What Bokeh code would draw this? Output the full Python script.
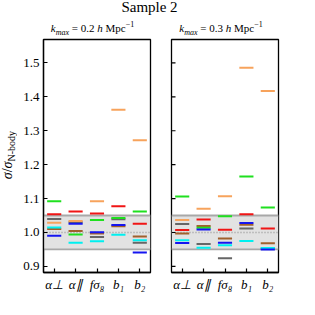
from bokeh.plotting import figure
from bokeh.models import (Range1d, FixedTicker, PrintfTickFormatter, BoxAnnotation,
                          Span, Div, ColumnDataSource)
from bokeh.layouts import column, row
from bokeh.embed import file_html
from bokeh.resources import INLINE

# ---------------- data ----------------
categories = ["α⊥", "α∥", "fσ₈", "b₁", "b₂"]
y_ticks = [0.9, 1.0, 1.1, 1.2, 1.3, 1.4, 1.5]

# k_max = 0.2 h/Mpc
gray_02 = [1.040, 1.030, 0.987, 1.039, 0.970]
brown_02 = [1.010, 1.004, 0.997, 1.018, 0.988]
orange_02 = [1.029, 1.034, 1.092, 1.362, 1.272]
green_02 = [1.092, 0.994, 1.037, 1.043, 1.062]
red_02 = [1.054, 1.062, 1.056, 1.077, 1.026]
cyan_02 = [1.015, 0.970, 0.974, 0.993, 0.977]
blue_02 = [0.990, 1.026, 1.001, 1.022, 0.941]

# k_max = 0.3 h/Mpc
gray_03 = [1.025, 0.966, 0.924, 1.012, 0.953]
brown_03 = [0.997, 1.019, 0.982, 1.023, 0.968]
orange_03 = [1.037, 1.070, 1.107, 1.486, 1.417]
green_03 = [1.106, 1.014, 1.048, 1.165, 1.074]
red_03 = [1.007, 1.038, 1.008, 1.054, 1.012]
cyan_03 = [0.977, 0.955, 0.962, 0.975, 0.954]
blue_03 = [0.969, 1.009, 0.970, 1.028, 0.950]

colors = {"gray": "#666666", "brown": "#a0602d", "orange": "#f7a35c",
          "green": "#1fe01f", "red": "#f01515", "cyan": "#00f0f0", "blue": "#1515f0"}

series_02 = [("gray", gray_02), ("brown", brown_02), ("orange", orange_02),
             ("green", green_02), ("red", red_02), ("cyan", cyan_02), ("blue", blue_02)]
series_03 = [("gray", gray_03), ("brown", brown_03), ("orange", orange_03),
             ("green", green_03), ("red", red_03), ("cyan", cyan_03), ("blue", blue_03)]

FONT = "Liberation Serif"
HALF = 0.33
X_LO, X_HI = -0.5, 4.5
FRAME_W = 107


def make_panel(series, left_labels, mb_left, mb_right):
    p = figure(frame_width=FRAME_W, frame_height=233, output_backend="svg",
               toolbar_location=None, x_range=Range1d(X_LO, X_HI),
               y_range=Range1d(0.882, 1.569),
               min_border_left=mb_left, min_border_right=mb_right,
               min_border_top=3, min_border_bottom=22)
    p.background_fill_color = "white"
    p.border_fill_color = "white"
    p.outline_line_color = "black"
    p.outline_line_width = 1.3
    p.xgrid.visible = False
    p.ygrid.visible = False

    band = BoxAnnotation(bottom=0.95, top=1.05, fill_color="#e2e2e2", fill_alpha=1.0,
                         line_alpha=0, level="underlay")
    p.add_layout(band)
    for yv in (0.95, 1.05):
        p.add_layout(Span(location=yv, dimension="width", line_color="#a8a8a8",
                          line_width=1.8, level="underlay"))
    p.add_layout(Span(location=1.0, dimension="width", line_color="#9a9a9a",
                      line_width=1.5, line_dash="1 2", level="underlay"))

    for name, vals in series:
        idx = list(range(len(categories)))
        src = ColumnDataSource(dict(x0=[i - HALF for i in idx], x1=[i + HALF for i in idx],
                                    y=vals))
        p.segment(x0="x0", y0="y", x1="x1", y1="y", source=src,
                  line_color=colors[name], line_width=2)

    xa = p.xaxis[0]
    xa.ticker = FixedTicker(ticks=list(range(len(categories))))
    xa.major_label_overrides = {i: c for i, c in enumerate(categories)}
    xa.major_label_text_font = FONT
    xa.major_label_text_font_style = "italic"
    xa.major_label_text_font_size = "13px"
    xa.major_label_text_color = "black"
    xa.major_label_standoff = 4
    ya = p.yaxis[0]
    ya.ticker = FixedTicker(ticks=y_ticks)
    ya.formatter = PrintfTickFormatter(format="%.1f")
    ya.major_label_text_font = FONT
    ya.major_label_text_font_size = "13px"
    ya.major_label_text_color = "black"
    ya.major_label_standoff = 4
    for ax in (xa, ya):
        ax.axis_line_color = "black"
        ax.axis_line_width = 1.3
        ax.major_tick_in = 4
        ax.major_tick_out = 0
        ax.major_tick_line_width = 1.2
        ax.minor_tick_line_color = None
    if not left_labels:
        # the right panel shares the y scale: inward ticks only, no labels
        ya.visible = False
        tick_len = 4 * (X_HI - X_LO) / FRAME_W
        p.segment(x0=[X_LO] * len(y_ticks), x1=[X_LO + tick_len] * len(y_ticks),
                  y0=y_ticks, y1=y_ticks, line_color="black", line_width=1.2)
    return p


p1 = make_panel(series_02, True, 20, 10)
p2 = make_panel(series_03, False, 11, 5)

header = Div(width=299, height=36, margin=(0, 0, 0, 0), text=f"""
<div style="position:relative;width:299px;height:36px;font-family:'{FONT}',serif;color:#000;">
  <div style="position:absolute;left:0;top:0px;width:299px;text-align:center;font-size:15px;line-height:15px;">Sample 2</div>
  <div style="position:absolute;left:39px;top:18px;width:107px;text-align:center;font-size:11px;line-height:13px;white-space:nowrap;"><i>k</i><sub style="font-size:8px;"><i>max</i></sub> = 0.2 <i>h</i> Mpc<sup style="font-size:8px;">−1</sup></div>
  <div style="position:absolute;left:167px;top:18px;width:108px;text-align:center;font-size:11px;line-height:13px;white-space:nowrap;"><i>k</i><sub style="font-size:8px;"><i>max</i></sub> = 0.3 <i>h</i> Mpc<sup style="font-size:8px;">−1</sup></div>
</div>
""")

ylabel = Div(width=20, height=239, margin=(0, 0, 0, 0), text=f"""
<div style="width:20px;height:239px;display:flex;align-items:center;justify-content:center;">
  <div style="writing-mode:vertical-rl;transform:rotate(180deg);white-space:nowrap;font-family:'{FONT}',serif;font-size:14px;line-height:18px;"><i>σ</i>/<i>σ</i><sub style="font-size:10px;">N-body</sub></div>
</div>
""")

layout = column(header, row(ylabel, p1, p2, spacing=0), spacing=0)

open("out.html", "w").write(file_html(layout, INLINE))
